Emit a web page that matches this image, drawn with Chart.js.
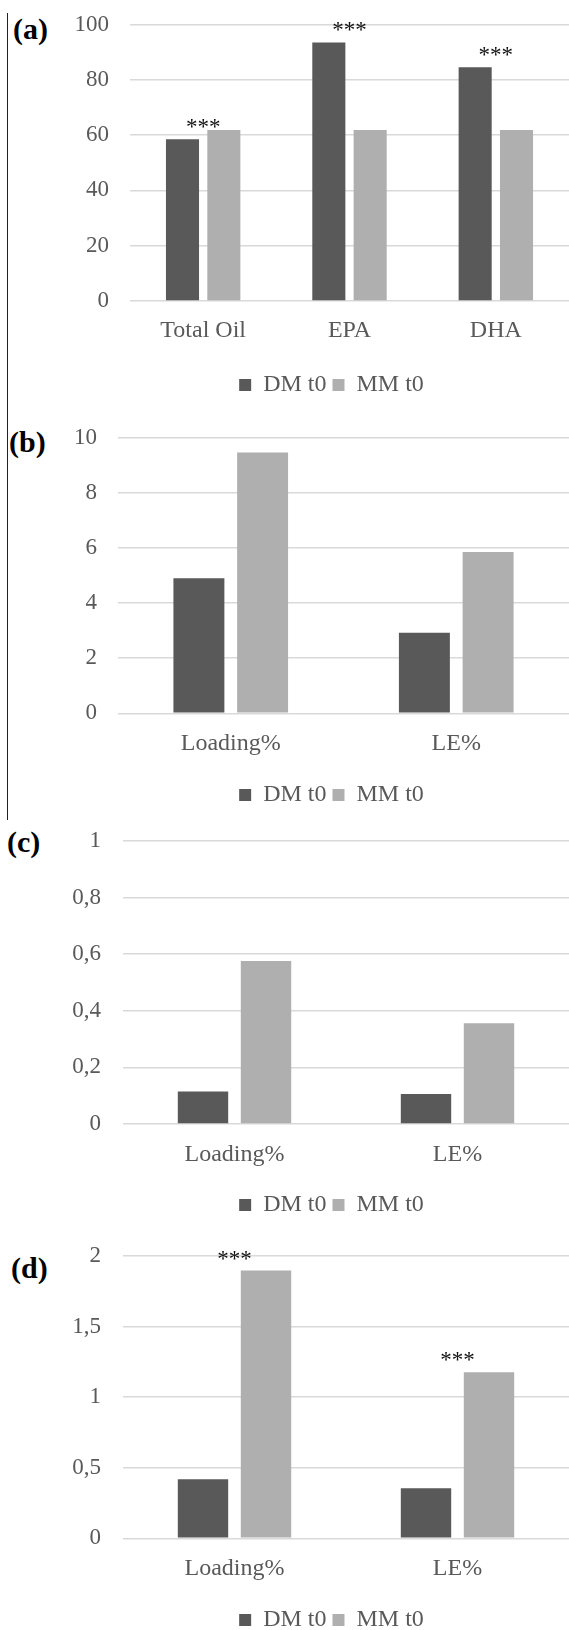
<!DOCTYPE html>
<html>
<head>
<meta charset="utf-8">
<script src="https://cdn.jsdelivr.net/npm/chart.js@4/dist/chart.umd.min.js"></script>
<style>
  body { margin: 0; background: #fff; overflow: hidden; width: 569px; height: 1630px; position: relative; }
  .panel { position: absolute; left: 0; width: 569px; }
  .tag { position: absolute; font: bold 30px 'Liberation Serif', serif; line-height: 30px; color: #000; }
  #rule { position: absolute; left: 7px; top: 13px; width: 1px; height: 807px; background: #222; }
</style>
</head>
<body>
<div id="rule"></div>
<div class="tag" style="left:13px;top:14px">(a)</div>
<div class="tag" style="left:9px;top:427px">(b)</div>
<div class="tag" style="left:7px;top:827px">(c)</div>
<div class="tag" style="left:11px;top:1253px">(d)</div>

<div class="panel" style="top:0px;height:407px"><canvas id="chartA"></canvas></div>
<div class="panel" style="top:407px;height:410px"><canvas id="chartB"></canvas></div>
<div class="panel" style="top:817px;height:410px"><canvas id="chartC"></canvas></div>
<div class="panel" style="top:1227px;height:415px"><canvas id="chartD"></canvas></div>

<script>
// data
const seriesNames = ['DM t0', 'MM t0'];

const catsA = ['Total Oil', 'EPA', 'DHA'];
const dmA = [58.5, 93.5, 84.5];
const mmA = [61.8, 61.8, 61.8];
const ticksA = ['0', '20', '40', '60', '80', '100'];

const catsB = ['Loading%', 'LE%'];
const dmB = [4.9, 2.92];
const mmB = [9.46, 5.85];
const ticksB = ['0', '2', '4', '6', '8', '10'];

const catsC = ['Loading%', 'LE%'];
const dmC = [0.115, 0.106];
const mmC = [0.576, 0.356];
const ticksC = ['0', '0,2', '0,4', '0,6', '0,8', '1'];

const catsD = ['Loading%', 'LE%'];
const dmD = [0.418, 0.354];
const mmD = [1.897, 1.176];
const ticksD = ['0', '0,5', '1', '1,5', '2'];

// significance marks: [category index, dataset index]
const starsA = [[0, 0], [1, 0], [2, 0]];
const starsD = [[0, 1], [1, 1]];

const DARK = '#595959';
const LIGHT = '#afafaf';
const TEXT = '#595959';
const FONT = "'Liberation Serif', serif";

// draws *** above the chosen bar, centred on its category
const starPlugin = {
  id: 'stars',
  afterDatasetsDraw(chart, args, opts) {
    if (!opts.marks) return;
    const ctx = chart.ctx;
    ctx.save();
    ctx.font = '23px ' + FONT;
    ctx.fillStyle = '#111';
    ctx.textAlign = 'center';
    ctx.textBaseline = 'alphabetic';
    opts.marks.forEach(([i, ds]) => {
      const bar = chart.getDatasetMeta(ds).data[i];
      const x = chart.scales.x.getPixelForValue(i);
      ctx.fillText('***', x, bar.y - 5);
    });
    ctx.restore();
  }
};

// legend in the original sits a bit right of the page centre
const shiftLegend = {
  id: 'shiftLegend',
  afterLayout(chart, args, opts) {
    const lg = chart.legend;
    if (lg && opts.dx) { lg.left += opts.dx; lg.right += opts.dx; }
  }
};

function makeChart(id, cats, dm, mm, tickLabels, max, step, lay, marks) {
  return new Chart(document.getElementById(id).getContext('2d'), {
    type: 'bar',
    data: {
      labels: cats,
      datasets: [
        { label: seriesNames[0], data: dm, backgroundColor: DARK },
        { label: seriesNames[1], data: mm, backgroundColor: LIGHT }
      ]
    },
    options: {
      responsive: true,
      maintainAspectRatio: false,
      animation: false,
      devicePixelRatio: 1,
      categoryPercentage: 0.565,
      barPercentage: 0.8,
      font: { family: FONT },
      layout: { padding: { top: lay.top, left: 0, right: 0, bottom: 0 } },
      plugins: {
        tooltip: { enabled: false },
        legend: {
          position: 'bottom',
          labels: { boxWidth: 12, boxHeight: 12, padding: 6, color: TEXT, font: { family: FONT, size: 24 } }
        },
        stars: { marks: marks },
        shiftLegend: { dx: 47 }
      },
      scales: {
        x: {
          grid: { display: false, drawTicks: false },
          border: { display: false },
          ticks: { color: TEXT, padding: lay.xpad, font: { family: FONT, size: 24 } },
          afterFit: s => { s.height = lay.xh; }
        },
        y: {
          min: 0, max: max,
          grid: { color: '#d9d9d9', lineWidth: 1.5, drawTicks: true, tickLength: lay.ypad, tickColor: 'rgba(0,0,0,0)' },
          border: { display: false },
          ticks: { stepSize: step, color: TEXT, padding: 0, font: { family: FONT, size: 23 },
                   callback: (v, i) => tickLabels[i] },
          afterFit: s => { s.width = lay.left; }
        }
      }
    },
    plugins: [starPlugin, shiftLegend]
  });
}

makeChart('chartA', catsA, dmA, mmA, ticksA, 100, 20, { top: 24.5, left: 130, xh: 66, xpad: 15, ypad: 21 }, starsA);
makeChart('chartB', catsB, dmB, mmB, ticksB, 10, 2, { top: 30.7, left: 118, xh: 63.7, xpad: 15.6, ypad: 21 }, null);
makeChart('chartC', catsC, dmC, mmC, ticksC, 1, 0.2, { top: 24, left: 123, xh: 63, xpad: 16.6, ypad: 22 }, null);
makeChart('chartD', catsD, dmD, mmD, ticksD, 2, 0.5, { top: 29, left: 123, xh: 63.7, xpad: 15.6, ypad: 22 }, starsD);
</script>
</body>
</html>
